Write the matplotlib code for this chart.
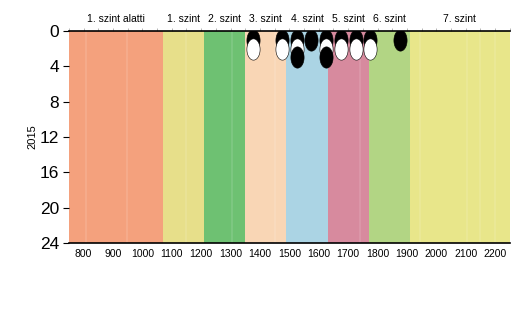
import numpy as np
import matplotlib
matplotlib.use("Agg")
import matplotlib.pyplot as plt
from matplotlib.path import Path

# ---- data ----
level_names = ["1. szint alatti", "1. szint", "2. szint", "3. szint",
               "4. szint", "5. szint", "6. szint", "7. szint"]
level_bounds = [750, 1070, 1210, 1350, 1490, 1630, 1770, 1910, 2250]
level_colors = ["#F4A17D", "#E7DF8A", "#6EC172", "#F9D6B5",
                "#ABD4E4", "#D78A9E", "#B2D584", "#E8E68A"]

stripe_x = [808, 948, 1150, 1305, 1450, 1740, 1945, 2105, 2150, 2200]

black_top_x = [1375, 1475, 1525, 1575, 1625, 1675, 1725, 1775, 1875]
black_top_y = [1, 1, 1, 1, 1, 1, 1, 1, 1]
white_x = [1375, 1475, 1525, 1625, 1675, 1725, 1775]
white_y = [2, 2, 2, 2, 2, 2, 2]
black_low_x = [1525, 1625]
black_low_y = [3, 3]

x_ticks = [800, 900, 1000, 1100, 1200, 1300, 1400, 1500, 1600, 1700,
           1800, 1900, 2000, 2100, 2200]
y_ticks = [0, 4, 8, 12, 16, 20, 24]
y_label = "2015"

narrow = ["Liberation Sans Narrow", "Liberation Sans", "DejaVu Sans"]

fig = plt.figure(figsize=(5.3, 3.16), dpi=100)
ax = fig.add_axes([0.130, 0.231, 0.832, 0.671])

for i, name in enumerate(level_names):
    ax.axvspan(level_bounds[i], level_bounds[i + 1], color=level_colors[i],
               lw=0, zorder=0)
for sx in stripe_x:
    ax.axvline(sx, color="white", alpha=0.13, lw=1.2, zorder=0.5)

# ellipse marker
t = np.linspace(0, 2 * np.pi, 60)
ell = Path(np.column_stack([0.62 * np.cos(t), np.sin(t)]), closed=True)
ms = 235
ax.scatter(black_top_x, black_top_y, marker=ell, s=ms, c="black",
           edgecolors="black", linewidths=0.4, zorder=3)
ax.scatter(white_x, white_y, marker=ell, s=ms, c="white",
           edgecolors="black", linewidths=0.4, zorder=4)
ax.scatter(black_low_x, black_low_y, marker=ell, s=ms, c="black",
           edgecolors="black", linewidths=0.4, zorder=5)

ax.set_xlim(level_bounds[0], level_bounds[-1])
ax.set_ylim(24, 0)

ax.set_yticks(y_ticks)
ax.set_yticklabels([str(v) for v in y_ticks], family=narrow, fontsize=12.5)
ax.tick_params(axis="y", length=4, width=0.8, pad=3)

ax.set_xticks(x_ticks)
ax.set_xticklabels([str(v) for v in x_ticks], family=narrow, fontsize=7.5)
ax.tick_params(axis="x", length=0, pad=4)

for s in ["left", "right"]:
    ax.spines[s].set_visible(False)
ax.spines["top"].set_linewidth(1.2)
ax.spines["bottom"].set_linewidth(1.2)

# top axis with level labels
top = ax.secondary_xaxis("top")
top.set_xticks(np.arange(750, 2251, 50))
top.set_xticklabels([])
top.tick_params(length=2, width=0.5, color="#999999")
top.spines["top"].set_visible(False)
for i, name in enumerate(level_names):
    cx = (level_bounds[i] + level_bounds[i + 1]) / 2
    ax.text(cx, -0.8, name, ha="center", va="bottom", fontsize=7.5,
            family=narrow, clip_on=False)

ax.set_ylabel(y_label, fontsize=8, family=["Liberation Sans", "DejaVu Sans"],
              labelpad=2)

fig.savefig("out.png", dpi=100)
